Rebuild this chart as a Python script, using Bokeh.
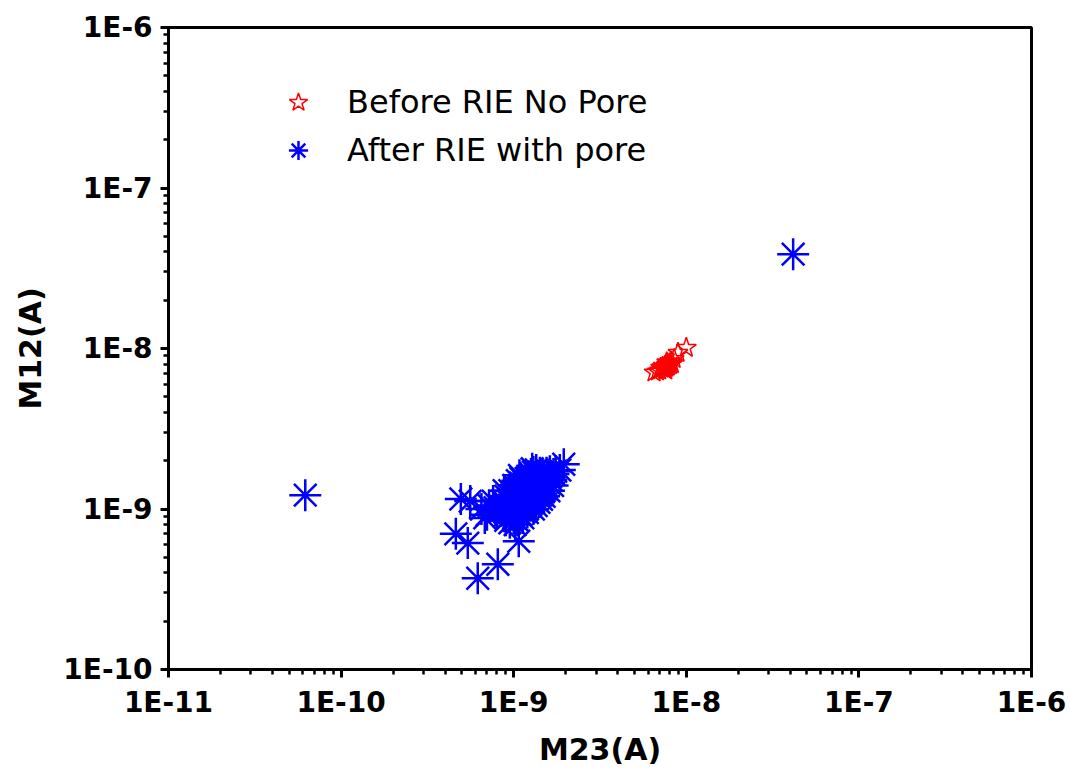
from bokeh.plotting import figure
from bokeh.models import Range1d, FixedTicker, CustomJSTickFormatter, Legend, LegendItem, ColumnDataSource
from bokeh.embed import file_html
from bokeh.resources import INLINE

# Data (currents in nA)
before_m23_nA = [6.5, 6.8, 7.0, 7.2, 7.4, 7.5, 7.6, 7.7, 7.8, 7.9, 8.0, 8.2, 7.3, 7.1, 7.6, 8.1,
                 8.5, 8.95, 10.0, 8.3, 7.7, 7.45, 7.85, 8.05]
before_m12_nA = [7.1, 7.2, 7.3, 7.5, 7.6, 7.4, 7.8, 7.6, 8.0, 7.8, 8.1, 8.3, 7.7, 7.6, 7.3, 7.9,
                 8.6, 9.4, 10.1, 8.0, 8.2, 7.45, 7.7, 7.95]

after_m23_nA = [0.92, 0.95, 0.98, 1.00, 1.02, 1.05, 1.08, 1.10, 1.12, 1.15, 1.18, 1.20, 1.22, 1.25,
                1.28, 1.30, 1.33, 1.35, 1.38, 1.40, 1.42, 1.45, 1.48, 1.50, 1.55, 1.58, 1.62,
                0.90, 0.94, 0.97, 1.00, 1.04, 1.07, 1.10, 1.14, 1.18, 1.22, 1.26, 1.30, 1.35,
                1.00, 1.05, 1.10, 1.15, 1.20, 1.25, 1.30, 1.35, 1.40, 1.45, 1.50, 1.55, 1.60, 1.65,
                0.85, 0.88, 0.86, 0.83, 1.12, 1.17, 1.23, 1.27, 1.32, 1.37, 1.42, 1.08, 1.03, 0.98,
                0.93, 1.13, 1.17, 1.21, 1.26, 1.31, 1.36, 1.41, 1.46, 1.52, 1.57, 1.62, 1.70, 1.75,
                0.80, 0.78, 0.76, 0.72, 0.70, 0.95, 1.02, 0.90,
                0.95, 1.00, 1.05, 1.10, 0.90, 1.30, 1.40, 1.50, 1.60, 1.20, 1.45, 1.15, 1.25,
                0.88, 1.08, 1.35, 1.68, 1.28,
                1.95, 1.85, 0.494, 0.56, 0.462, 0.542, 0.619, 0.809, 1.07, 0.65, 0.68,
                0.062, 41.6]
after_m12_nA = [0.95, 1.02, 0.92, 1.05, 1.10, 0.98, 1.15, 1.05, 1.22, 1.12, 1.30, 1.18, 1.35, 1.25,
                1.40, 1.30, 1.45, 1.35, 1.52, 1.42, 1.58, 1.48, 1.62, 1.55, 1.68, 1.60, 1.72,
                1.08, 1.15, 1.22, 1.28, 1.32, 1.38, 1.45, 1.50, 1.55, 1.60, 1.65, 1.70, 1.75,
                0.88, 0.85, 0.92, 0.96, 1.00, 1.05, 1.10, 1.15, 1.20, 1.25, 1.30, 1.38, 1.45, 1.52,
                0.98, 0.90, 1.12, 1.05, 1.35, 1.42, 1.48, 1.52, 1.58, 1.62, 1.68, 1.25, 1.18, 1.12,
                1.00, 0.88, 1.08, 1.12, 1.18, 1.22, 1.28, 1.32, 1.38, 1.42, 1.48, 1.58, 1.65, 1.72,
                0.95, 1.02, 1.12, 1.05, 0.92, 0.82, 0.80, 0.85,
                1.30, 1.40, 1.50, 1.55, 1.20, 1.00, 1.10, 1.20, 1.30, 0.95, 1.15, 1.40, 1.55,
                1.30, 1.62, 1.05, 1.40, 1.78,
                1.90, 1.75, 1.155, 1.12, 0.70, 0.613, 0.37, 0.453, 0.63, 1.00, 0.88,
                1.22, 38.7]

decades = [-11, -10, -9, -8, -7, -6]
y_decades = [-10, -9, -8, -7, -6]
NA = 1e-9

before = ColumnDataSource(dict(x=[v * NA for v in before_m23_nA], y=[v * NA for v in before_m12_nA]))
after = ColumnDataSource(dict(x=[v * NA for v in after_m23_nA], y=[v * NA for v in after_m12_nA]))

p = figure(width=1070, height=771, x_axis_type="log", y_axis_type="log",
           x_range=Range1d(1e-11, 1e-6), y_range=Range1d(1e-10, 1e-6),
           output_backend="svg", toolbar_location=None,
           min_border_left=168, min_border_right=39, min_border_top=27, min_border_bottom=102)

p.grid.visible = False
p.outline_line_color = "black"
p.outline_line_width = 3

def minors(decs):
    out = []
    for d in decs[:-1]:
        for m in range(2, 10):
            out.append(m * 10.0 ** d)
    return out

fmt = CustomJSTickFormatter(code="return '1E' + Math.round(Math.log10(tick));")
p.xaxis.ticker = FixedTicker(ticks=[10.0 ** d for d in decades], minor_ticks=minors(decades))
p.yaxis.ticker = FixedTicker(ticks=[10.0 ** d for d in y_decades], minor_ticks=minors(y_decades))
p.xaxis.formatter = fmt
p.yaxis.formatter = fmt

for ax in (p.xaxis, p.yaxis):
    ax.axis_line_width = 3
    ax.major_tick_line_width = 3
    ax.minor_tick_line_width = 2.5
    ax.major_tick_out = 8
    ax.major_tick_in = 0
    ax.minor_tick_out = 5
    ax.minor_tick_in = 0
    ax.major_label_text_font = "DejaVu Sans"
    ax.major_label_text_font_style = "bold"
    ax.major_label_text_font_size = "28px"
    ax.major_label_text_color = "black"
    ax.axis_label_text_font = "DejaVu Sans"
    ax.axis_label_text_font_style = "bold"
    ax.axis_label_text_font_size = "30px"
    ax.axis_label_text_color = "black"
    ax.major_label_standoff = 8
    ax.axis_label_standoff = 16

p.xaxis.axis_label = "M23(A)"
p.yaxis.axis_label = "M12(A)"
p.xaxis.axis_label_standoff = 10
p.yaxis.axis_label_standoff = 12

r_before = p.scatter("x", "y", source=before, marker="star", size=21, line_color="#FF0000",
                     line_width=1.5, fill_color="white", fill_alpha=0)
r_after = p.scatter("x", "y", source=after, marker="asterisk", size=32, line_color="#0000FF",
                    line_width=2.5)

legend = Legend(items=[LegendItem(label="Before RIE No Pore", renderers=[r_before]),
                       LegendItem(label="After RIE with pore", renderers=[r_after])],
                location=(106, 495))
legend.border_line_alpha = 0
legend.background_fill_alpha = 0
legend.padding = 0
legend.spacing = 0
legend.margin = 0
legend.glyph_width = 48
legend.glyph_height = 48
legend.label_height = 48
legend.label_standoff = 25
legend.label_text_font = "DejaVu Sans"
legend.label_text_font_size = "32px"
legend.label_text_color = "black"
p.add_layout(legend)

open("out.html", "w").write(file_html(p, INLINE))
